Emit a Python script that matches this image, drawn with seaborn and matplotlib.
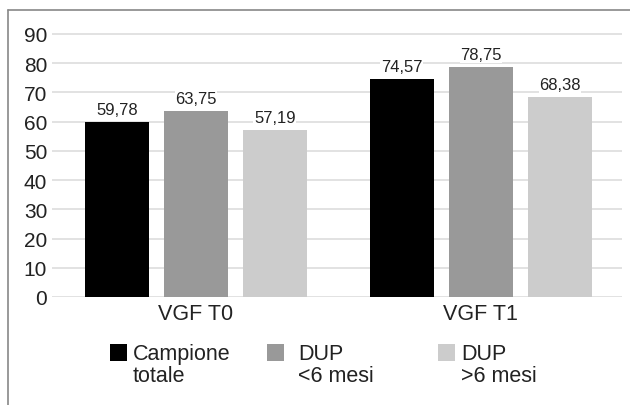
import pandas as pd
import matplotlib.pyplot as plt
import matplotlib.patches as mpatches
import seaborn as sns

# data
categories = ["VGF T0", "VGF T1"]
groups = ["Campione\ntotale", "DUP\n<6 mesi", "DUP\n>6 mesi"]
campione = [59.78, 74.57]
dup_meno6 = [63.75, 78.75]
dup_piu6 = [57.19, 68.38]
colors = ["#000000", "#999999", "#cccccc"]

rows = []
for g, vals in zip(groups, [campione, dup_meno6, dup_piu6]):
    for c, v in zip(categories, vals):
        rows.append({"cat": c, "group": g, "value": v})
df = pd.DataFrame(rows)

sns.set_style("white")
plt.rcParams["font.family"] = ["Liberation Sans", "DejaVu Sans"]

W, H = 630, 406
fig = plt.figure(figsize=(6.3, 4.06), dpi=100)
# axes: x 52..622 px, y 0 at 298 px, 90 at 35 px
ax = fig.add_axes([52 / W, 1 - 298 / H, 570 / W, 263 / H * 100 / 90])

sns.barplot(data=df, x="cat", y="value", hue="group", palette=colors,
            width=0.832, gap=0.19, ax=ax, legend=False, saturation=1, linewidth=0)

# value labels
for cont in ax.containers:
    labels = [f"{v:.2f}".replace(".", ",") for v in cont.datavalues]
    ax.bar_label(cont, labels=labels, padding=3.5, fontsize=12, color="#222222",
                 bbox=dict(facecolor="white", edgecolor="none", pad=0.5))

ax.set_ylim(0, 100)
ax.set_yticks(range(0, 91, 10))
ax.set_xlim(-0.505, 1.495)
ax.yaxis.grid(True, color="#dddddd", linewidth=1.2)
ax.set_axisbelow(True)
for s in ax.spines.values():
    s.set_visible(False)
ax.set_xlabel("")
ax.set_ylabel("")
ax.tick_params(axis="y", labelsize=15, length=0, pad=3.5, labelcolor="#222222")
ax.tick_params(axis="x", labelsize=15.5, length=0, pad=4, labelcolor="#222222")

# legend drawn by hand: square + two text lines per entry
sq_x = [110, 267, 438]
txt_x = [133, 298, 461]
for c, g, sx, tx in zip(colors, groups, sq_x, txt_x):
    fig.add_artist(mpatches.Rectangle((sx / W, 1 - 362 / H), 17 / W, 17 / H,
                                      facecolor=c, edgecolor="none", transform=fig.transFigure))
    line1, line2 = g.split("\n")
    fig.text(tx / W, 1 - 360 / H, line1, fontsize=15.5, va="baseline", ha="left", color="#222222")
    fig.text(tx / W, 1 - 382 / H, line2, fontsize=15.5, va="baseline", ha="left", color="#222222")

# figure frame (left and top edges)
fig.add_artist(plt.Line2D([8 / W, 8 / W], [0, 1 - 11 / H], color="#888888", lw=1.2,
                          transform=fig.transFigure))
fig.add_artist(plt.Line2D([8 / W, 1], [1 - 11 / H, 1 - 11 / H], color="#888888", lw=1.2,
                          transform=fig.transFigure))

fig.savefig("out.png", dpi=100)
